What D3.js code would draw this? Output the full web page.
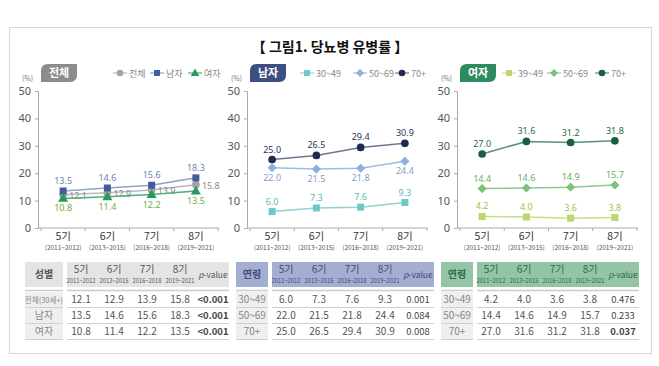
<!DOCTYPE html>
<html>
<head>
<meta charset="utf-8">
<script src="https://cdn.jsdelivr.net/npm/d3@7"></script>
<style>
  body { margin: 0; background: #fff; }
  svg { display: block; font-family: "Noto Sans CJK KR", "Noto Sans", sans-serif; }
</style>
</head>
<body>
<div id="chart"></div>
<script>
// DATA
const periods = ["5기", "6기", "7기", "8기"];
const periodYears = ["2011~2012", "2013~2015", "2016~2018", "2019~2021"];

const totalAll = [12.1, 12.9, 13.9, 15.8];
const totalMale = [13.5, 14.6, 15.6, 18.3];
const totalFemale = [10.8, 11.4, 12.2, 13.5];

const male3049 = [6.0, 7.3, 7.6, 9.3];
const male5069 = [22.0, 21.5, 21.8, 24.4];
const male70 = [25.0, 26.5, 29.4, 30.9];

const female3049 = [4.2, 4.0, 3.6, 3.8];
const female5069 = [14.4, 14.6, 14.9, 15.7];
const female70 = [27.0, 31.6, 31.2, 31.8];

const pTotal = ["<0.001", "<0.001", "<0.001"];
const pMale = ["0.001", "0.084", "0.008"];
const pFemale = ["0.476", "0.233", "0.037"];

const yTicks = [0, 10, 20, 30, 40, 50];

const W = 659, H = 366;
const svg = d3.select("#chart").append("svg").attr("width", W).attr("height", H);

// frame + title
svg.append("rect").attr("x", 9.5).attr("y", 27.5).attr("width", 642).attr("height", 326)
  .attr("fill", "none").attr("stroke", "#d9d9d9");
svg.append("text").attr("x", 330).attr("y", 52).attr("text-anchor", "middle")
  .style("font-size", "14px").style("font-weight", "bold").attr("fill", "#111")
  .text("【 그림1. 당뇨병 유병률 】");

const panels = [
  {
    x0: 38, badge: "전체", badgeColor: "#8c8c8c", headColor: "#e4e4e4", headText: "#555", rowHead: "성별",
    legendX: [120, 157, 195],
    series: [
      { name: "전체", values: totalAll, shape: "circle", color: "#a3a3ab", line: "#b8b8c0", label: "#8a8a8a", pos: "right" },
      { name: "남자", values: totalMale, shape: "square", color: "#3f5d9c", line: "#8ea2cc", label: "#6a84b8", pos: "above" },
      { name: "여자", values: totalFemale, shape: "triangle", color: "#2a9a5c", line: "#52ad78", label: "#6cb23c", pos: "below" }
    ],
    rows: ["전체(30세+)", "남자", "여자"], p: pTotal, tableX: 25, labelW: 38
  },
  {
    x0: 247, badge: "남자", badgeColor: "#3d4f82", headColor: "#a4aed0", headText: "#3d4a75", rowHead: "연령",
    legendX: [307, 360, 402],
    series: [
      { name: "30~49", values: male3049, shape: "square", color: "#6fc8c6", line: "#8fd3d1", label: "#5bbab8", pos: "above" },
      { name: "50~69", values: male5069, shape: "diamond", color: "#8db0de", line: "#9fbce2", label: "#7f9fcc", pos: "below" },
      { name: "70+", values: male70, shape: "circle", color: "#1e2a52", line: "#70758e", label: "#2e3558", pos: "above" }
    ],
    rows: ["30~49", "50~69", "70+"], p: pMale, tableX: 236, labelW: 32
  },
  {
    x0: 457, badge: "여자", badgeColor: "#2e8a5f", headColor: "#93c4a4", headText: "#2f6a48", rowHead: "연령",
    legendX: [509, 554, 602],
    series: [
      { name: "39~49", values: female3049, shape: "square", color: "#b9d86e", line: "#c6df8a", label: "#9cc44c", pos: "above" },
      { name: "50~69", values: female5069, shape: "diamond", color: "#7cc17c", line: "#8fca8c", label: "#5faf5f", pos: "above" },
      { name: "70+", values: female70, shape: "circle", color: "#1c5f3f", line: "#5a8f75", label: "#2d6a4a", pos: "above" }
    ],
    rows: ["30~49", "50~69", "70+"], p: pFemale, tableX: 441, labelW: 32
  }
];

const y = d3.scaleLinear().domain([0, 50]).range([228, 91]);
const narrow = "'Liberation Sans Narrow', 'Noto Sans', sans-serif";

function marker(g, shape, cx, cy, color, s) {
  if (shape === "circle") {
    g.append("circle").attr("cx", cx).attr("cy", cy).attr("r", s * 0.55).attr("fill", color);
  } else if (shape === "square") {
    g.append("rect").attr("x", cx - s / 2).attr("y", cy - s / 2).attr("width", s).attr("height", s).attr("fill", color);
  } else if (shape === "diamond") {
    g.append("path").attr("d", d3.symbol(d3.symbolDiamond2, s * s * 1.1)()).attr("transform", `translate(${cx},${cy})`).attr("fill", color);
  } else {
    g.append("path").attr("d", d3.symbol(d3.symbolTriangle, s * s * 0.9)()).attr("transform", `translate(${cx},${cy + 0.5})`).attr("fill", color);
  }
}

panels.forEach(p => {
  const g = svg.append("g");
  const x = d3.scaleBand().domain(periods).range([p.x0 + 3, p.x0 + 180]);
  const cx = d => x(d) + x.bandwidth() / 2;

  // badge (leaf shaped)
  const bx = p.x0 + 3, by = 64, bw = 36, bh = 18, r = 7;
  g.append("path")
    .attr("d", `M${bx + r},${by} H${bx + bw} V${by + bh - r} Q${bx + bw},${by + bh} ${bx + bw - r},${by + bh} H${bx} V${by + r} Q${bx},${by} ${bx + r},${by} Z`)
    .attr("fill", p.badgeColor);
  g.append("text").attr("x", bx + bw / 2).attr("y", by + 13).attr("text-anchor", "middle")
    .attr("fill", "#fff").style("font-size", "11px").style("font-weight", "bold").text(p.badge);
  g.append("text").attr("x", p.x0 - 16).attr("y", 81).attr("fill", "#777").style("font-size", "7px").text("(%)");

  // legend
  p.series.forEach((s, i) => {
    const lx = p.legendX[i];
    g.append("line").attr("x1", lx - 7).attr("x2", lx + 7).attr("y1", 73).attr("y2", 73)
      .attr("stroke", s.line).attr("stroke-width", 1.2);
    marker(g, s.shape, lx, 73, s.color, 6);
    g.append("text").attr("x", lx + 9).attr("y", 76.5).attr("fill", "#888").style("font-size", "9px").text(s.name);
  });

  // y axis
  const ya = g.append("g").attr("transform", `translate(${p.x0},0)`)
    .call(d3.axisLeft(y).tickValues(yTicks).tickSize(3).tickPadding(4));
  ya.select(".domain").attr("stroke", "#aaa");
  ya.selectAll(".tick line").attr("stroke", "#aaa");
  ya.selectAll(".tick text").attr("fill", "#555").style("font-size", "11px").style("font-family", narrow);

  // x axis
  g.append("line").attr("x1", p.x0).attr("x2", p.x0 + 181).attr("y1", y(0)).attr("y2", y(0)).attr("stroke", "#aaa");
  g.selectAll(".xtick").data(periods.concat(["end"])).join("line")
    .attr("x1", (d, i) => x(periods[0]) + i * x.step()).attr("x2", (d, i) => x(periods[0]) + i * x.step())
    .attr("y1", y(0)).attr("y2", y(0) + 3).attr("stroke", "#aaa");
  g.selectAll(".xlab").data(periods).join("text")
    .attr("x", cx).attr("y", 239.5).attr("text-anchor", "middle").attr("fill", "#333")
    .style("font-size", "10.5px").text(d => d);
  g.selectAll(".xsub").data(periodYears).join("text")
    .attr("x", (d, i) => cx(periods[i])).attr("y", 250).attr("text-anchor", "middle").attr("fill", "#555")
    .style("font-size", "6.5px").text(d => "(" + d + ")");

  // lines, markers, labels
  const line = d3.line().x((d, i) => cx(periods[i])).y(d => y(d));
  p.series.forEach(s => {
    g.append("path").attr("d", line(s.values)).attr("fill", "none").attr("stroke", s.line).attr("stroke-width", 1.5);
    s.values.forEach((v, i) => marker(g, s.shape, cx(periods[i]), y(v), s.color, 7));
    g.selectAll(null).data(s.values).join("text")
      .attr("x", (d, i) => cx(periods[i]) + (s.pos === "right" ? 6 : 0))
      .attr("y", d => y(d) + (s.pos === "above" ? -7 : s.pos === "below" ? 13 : 4))
      .attr("text-anchor", s.pos === "right" ? "start" : "middle")
      .attr("fill", s.label).style("font-size", "9px")
      .style("font-family", narrow)
      .text(d => d.toFixed(1));
  });

  // table
  const t = g.append("g");
  const tx = p.tableX, lw = p.labelW, dx = tx + lw + 4, dw = 162;
  const colX = d3.scalePoint().domain(periods.concat(["p"])).range([dx + 14, dx + 146]);
  t.append("rect").attr("x", tx).attr("y", 262).attr("width", lw).attr("height", 25).attr("fill", p.headColor);
  t.append("rect").attr("x", dx).attr("y", 262).attr("width", dw).attr("height", 25).attr("fill", p.headColor);
  t.append("text").attr("x", tx + lw / 2).attr("y", 278).attr("text-anchor", "middle")
    .attr("fill", p.headText).style("font-size", "10px").style("font-weight", "bold").text(p.rowHead);
  periods.forEach((d, i) => {
    t.append("text").attr("x", colX(d)).attr("y", 273).attr("text-anchor", "middle")
      .attr("fill", p.headText).style("font-size", "10px").text(d);
    t.append("text").attr("x", colX(d)).attr("y", 282.5).attr("text-anchor", "middle")
      .attr("fill", p.headText).style("font-size", "5.8px").text(periodYears[i]);
  });
  const pv = t.append("text").attr("x", colX("p")).attr("y", 278).attr("text-anchor", "middle")
    .attr("fill", p.headText).style("font-size", "8.5px");
  pv.append("tspan").style("font-style", "italic").text("p");
  pv.append("tspan").text("-value");

  // double line under header
  t.append("line").attr("x1", tx).attr("x2", tx + lw).attr("y1", 290.5).attr("y2", 290.5).attr("stroke", "#ccc").attr("stroke-width", 1.5);
  t.append("line").attr("x1", dx).attr("x2", dx + dw).attr("y1", 290.5).attr("y2", 290.5).attr("stroke", "#ccc").attr("stroke-width", 1.5);

  p.rows.forEach((rName, ri) => {
    const ry = 292 + ri * 16;
    t.append("rect").attr("x", tx).attr("y", ry).attr("width", lw).attr("height", 15).attr("fill", "#efefef");
    t.append("text").attr("x", tx + lw / 2).attr("y", ry + 11).attr("text-anchor", "middle")
      .attr("fill", "#888").style("font-size", rName.length > 5 ? "7.5px" : "10px").text(rName);
    p.series[ri].values.forEach((v, i) => {
      t.append("text").attr("x", colX(periods[i])).attr("y", ry + 11).attr("text-anchor", "middle")
        .attr("fill", "#555").style("font-size", "10px").text(v.toFixed(1));
    });
    t.append("text").attr("x", colX("p")).attr("y", ry + 11).attr("text-anchor", "middle")
      .attr("fill", "#444").style("font-size", "9.5px")
      .style("font-weight", p.p[ri].startsWith("<") || p.p[ri] === "0.037" ? "bold" : "normal")
      .text(p.p[ri]);
    t.append("line").attr("x1", tx).attr("x2", tx + lw).attr("y1", ry + 15.5).attr("y2", ry + 15.5).attr("stroke", "#cfcfcf");
    t.append("line").attr("x1", dx).attr("x2", dx + dw).attr("y1", ry + 15.5).attr("y2", ry + 15.5).attr("stroke", "#cfcfcf");
  });
});
</script>
</body>
</html>
